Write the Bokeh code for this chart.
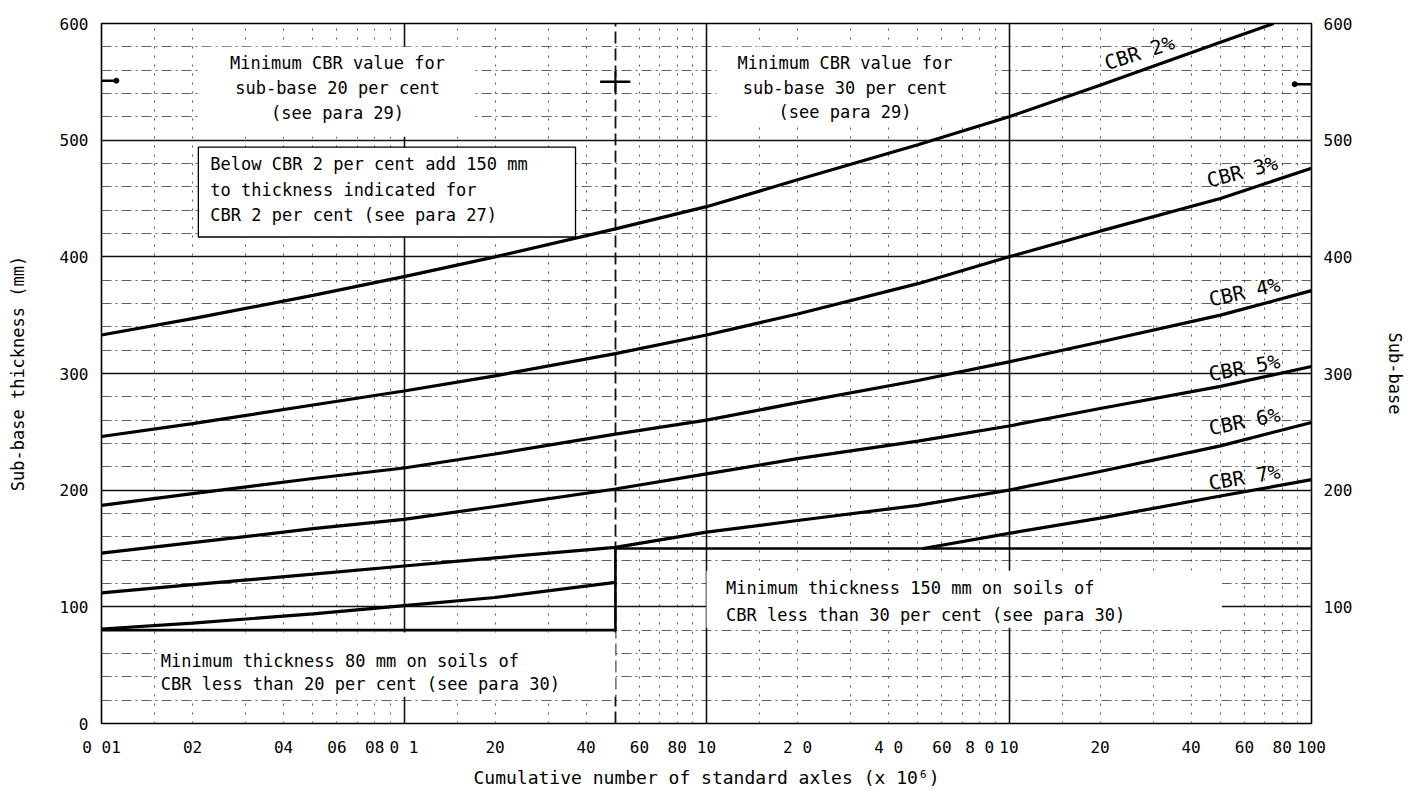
from bokeh.plotting import figure
from bokeh.models import FixedTicker, Grid, LinearAxis
from bokeh.embed import file_html
from bokeh.resources import INLINE
from bokeh.core.properties import value

FONT = "DejaVu Sans Mono"

# ---------------- data ----------------
traffic = [0.01, 0.02, 0.05, 0.1, 0.2, 0.5, 1, 2, 5, 10, 20, 50, 100]
cbr2_traffic = [0.01, 0.02, 0.05, 0.1, 0.2, 0.5, 1, 2, 5, 10, 20, 50, 75]
cbr2 = [333, 347, 367, 383, 400, 424, 443, 466, 496, 520, 547, 584, 600]
cbr3 = [246, 257, 273, 285, 298, 317, 333, 351, 377, 400, 422, 450, 476]
cbr4 = [187, 197, 210, 219, 231, 248, 260, 275, 294, 310, 327, 350, 371]
cbr5 = [146, 155, 167, 175, 186, 201, 214, 227, 242, 255, 270, 289, 306]
cbr6 = [112, 119, 128, 135, 142, 151, 164, 174, 187, 200, 216, 238, 258]
cbr7_low_traffic = [0.01, 0.02, 0.05, 0.1, 0.2, 0.5]
cbr7_low = [81, 86, 94, 101, 108, 121]
cbr7_high_traffic = [5.2, 10, 20, 50, 100]
cbr7_high = [150, 163, 176, 195, 209]

# minimum-thickness limits: 80 mm below 0.5 msa, 150 mm above
floor_traffic = [0.01, 0.5, 0.5, 100]
floor_thickness = [80, 80, 150, 150]

cbr_names = ["CBR 2%", "CBR 3%", "CBR 4%", "CBR 5%", "CBR 6%", "CBR 7%"]
cbr_label_traffic = [27, 59, 60, 60, 60, 60]
cbr_label_thickness = [575, 473, 370, 305, 259, 211]

x_ticks = [0.01, 0.02, 0.04, 0.06, 0.08, 0.1, 0.2, 0.4, 0.6, 0.8,
           1, 2, 4, 6, 8, 10, 20, 40, 60, 80, 100]
x_tick_labels = ["0 01", "02", "04", "06", "08", "0 1", "20", "40", "60", "80",
                 "10", "2 0", "4 0", "60", "8 0", "10", "20", "40", "60", "80", "100"]
y_ticks_left = [0, 100, 200, 300, 400, 500, 600]
y_ticks_right = [100, 200, 300, 400, 500, 600]

# grid positions
grid_major_y = [100, 200, 300, 400, 500]
grid_minor_y = [v for v in range(20, 600, 20) if v % 100 != 0]
grid_major_x = [0.1, 1, 10]
grid_dashed_x = [0.5]
grid_minor_x = [round(d * m, 6) for d in (0.01, 0.1, 1, 10)
                for m in (1.5, 2, 3, 4, 5, 6, 7, 8, 9)
                if round(d * m, 6) != 0.5]

# notes
note_tl = ["Minimum CBR value for", "sub-base 20 per cent", "(see para 29)"]
note_tr = ["Minimum CBR value for", "sub-base 30 per cent", "(see para 29)"]
note_box = ["Below CBR 2 per cent add 150 mm", "to thickness indicated for",
            "CBR 2 per cent (see para 27)"]
note_bl = ["Minimum thickness 80 mm on soils of",
           "CBR less than 20 per cent (see para 30)"]
note_br = ["Minimum thickness 150 mm on soils of",
           "CBR less than 30 per cent (see para 30)"]

# ---------------- figure ----------------
p = figure(width=1408, height=790, x_axis_type="log",
           x_range=(0.01, 100), y_range=(0, 600),
           output_backend="svg", toolbar_location=None,
           min_border_left=101, min_border_right=92,
           min_border_top=23, min_border_bottom=63)
p.xgrid.visible = False
p.ygrid.visible = False
p.outline_line_color = "black"
p.outline_line_width = 1.6
p.background_fill_color = "white"
p.border_fill_color = "white"


def add_grid(dim, ticks, width, dash, color="#222222", alpha=1.0):
    g = Grid(dimension=dim, ticker=FixedTicker(ticks=ticks),
             grid_line_color=color, grid_line_width=width,
             grid_line_dash=dash, grid_line_alpha=alpha)
    p.add_layout(g)


add_grid(1, grid_minor_y, 1, "10 4 2 4", color="#444444", alpha=0.85)
add_grid(0, grid_minor_x, 1, "2 7", color="#444444", alpha=0.9)
add_grid(1, grid_major_y, 1.3, "solid", color="#111111")
add_grid(0, grid_major_x, 1.6, "solid", color="#111111")
add_grid(0, grid_dashed_x, 1.8, "12 5", color="#111111")

# axes
ry = LinearAxis(ticker=FixedTicker(ticks=y_ticks_right), axis_label="Sub-base")
p.add_layout(ry, "right")

for ax in (p.xaxis[0], p.yaxis[0], ry):
    ax.axis_line_color = None
    ax.major_tick_in = 0
    ax.major_tick_out = 0
    ax.minor_tick_line_color = None
    ax.major_label_text_font = FONT
    ax.major_label_text_font_size = "16px"
    ax.major_label_text_color = "black"
    ax.axis_label_text_font = FONT
    ax.axis_label_text_font_style = "normal"
    ax.axis_label_text_color = "black"

p.xaxis.ticker = FixedTicker(ticks=x_ticks)
p.xaxis.major_label_overrides = {t: s for t, s in zip(x_ticks, x_tick_labels)}
p.xaxis.major_label_standoff = 14
p.xaxis.axis_label = "Cumulative number of standard axles (x 10\u2076)"
p.xaxis.axis_label_text_font_size = "18px"
p.xaxis.axis_label_standoff = 7

p.yaxis[0].ticker = FixedTicker(ticks=y_ticks_left)
p.yaxis[0].major_label_standoff = 13
p.yaxis[0].axis_label = "Sub-base thickness (mm)"
p.yaxis[0].axis_label_text_font_size = "17px"
p.yaxis[0].axis_label_standoff = 29

ry.major_label_standoff = 12
ry.axis_label_text_font_size = "17px"
ry.axis_label_standoff = 30

# white areas behind the notes (hide the grid like the original)
p.quad(left=[0.021, 1.08, 1.0, 0.0153], right=[0.17, 8.9, 50.6, 0.5],
       bottom=[503, 512, 82, 23], top=[580, 580, 131, 78],
       fill_color="white", line_color=None)
# framed note
p.quad(left=[0.0209], right=[0.369], bottom=[417], top=[494],
       fill_color="white", line_color="black", line_width=1.3)

# limits and curves
p.line(floor_traffic, floor_thickness, line_color="black", line_width=2.6)
p.line(cbr2_traffic, cbr2, line_color="black", line_width=3.2)
for series in (cbr3, cbr4, cbr5, cbr6):
    p.line(traffic, series, line_color="black", line_width=3.2)
p.line(cbr7_low_traffic, cbr7_low, line_color="black", line_width=3.2)
p.line(cbr7_high_traffic, cbr7_high, line_color="black", line_width=3.2)

# curve labels
p.text(x=cbr_label_traffic, y=cbr_label_thickness, text=cbr_names,
       angle=[0.31, 0.26, 0.22, 0.19, 0.2, 0.17],
       text_font=value(FONT), text_font_size="20px",
       text_align="center", text_baseline="middle", text_color="black")

# notes
common = dict(text_font=value(FONT), text_font_size="17px",
              text_baseline="middle", text_color="black")
p.text(x=[0.0603] * 3, y=[566, 545, 523], text=note_tl, text_align="center", **common)
p.text(x=[2.87] * 3, y=[566, 545, 524], text=note_tr, text_align="center", **common)
p.text(x=[0.0229] * 3, y=[480, 457, 436], text=note_box, text_align="left", **common)
p.text(x=[0.0157] * 2, y=[54, 34], text=note_bl, text_align="left", **common)
p.text(x=[1.16] * 2, y=[116, 93], text=note_br, text_align="left", **common)

# small reference marks at the 550 mm level
p.segment(x0=[0.01, 0.445, 88], y0=[551, 550, 548],
          x1=[0.0112, 0.56, 100], y1=[551, 550, 548],
          line_color="black", line_width=2.5)
p.segment(x0=[0.5], y0=[541], x1=[0.5], y1=[559], line_color="black", line_width=2)
p.scatter(x=[0.0112, 88], y=[551, 548], size=5, color="black")

open("out.html", "w").write(file_html(p, INLINE))
